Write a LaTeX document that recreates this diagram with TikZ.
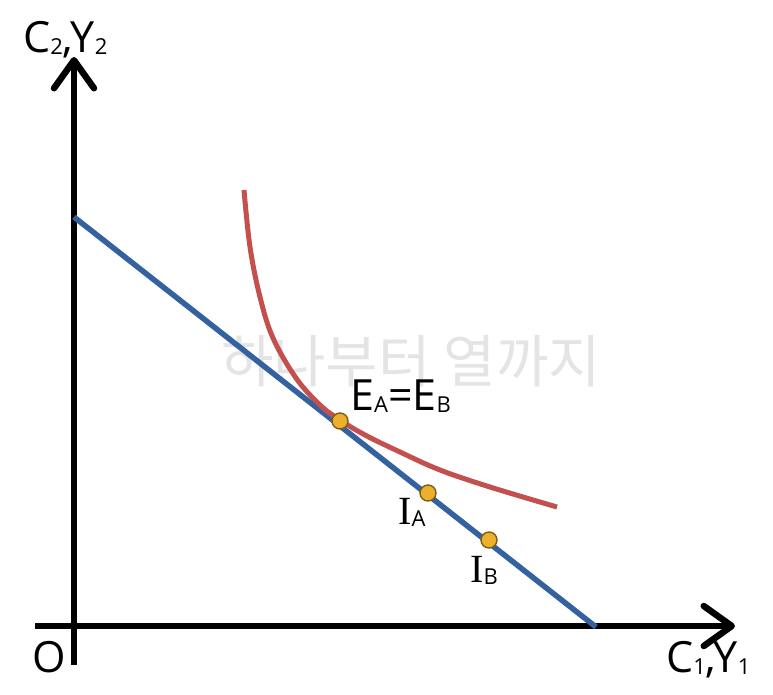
\documentclass[tikz,border=0pt]{standalone}
\usepackage{fontspec}
\setmainfont{Open Sans}
\newfontfamily\serifI{Liberation Serif}
\newfontfamily\krfont{Noto Sans CJK KR}
\usetikzlibrary{arrows.meta}
\definecolor{bluel}{RGB}{52,98,160}
\definecolor{redc}{RGB}{196,80,78}
\definecolor{dotfill}{RGB}{236,176,46}
\definecolor{dotdraw}{RGB}{125,95,20}
\definecolor{wm}{RGB}{228,228,228}
\newcommand\sbs[1]{\raisebox{-0.06em}{\fontsize{22}{22}\selectfont #1}}
\begin{document}
\begin{tikzpicture}[x=1pt,y=-1pt,
  axis/.style={line width=6.5pt,-{Straight Barb[length=28pt,width=40pt,line cap=round,line join=round]}},
  dotp/.style={circle,fill=dotfill,draw=dotdraw,line width=1.4pt,minimum size=16pt,inner sep=0pt},
  lbl/.style={inner sep=0pt,font=\fontsize{43}{43}\selectfont},
  ilbl/.style={inner sep=0pt,font=\fontsize{40}{40}\selectfont}]
\useasboundingbox (0,0) rectangle (773,694);
\node[font=\krfont\fontsize{57}{57}\selectfont,text=wm,inner sep=0pt] (wmk) at (411,361) {하나부터 열까지};
\coordinate (yb) at (74,665);
\coordinate (yt) at (74,57);
\coordinate (xl) at (35,626);
\coordinate (xr) at (735,626);
\draw[axis] (yb) -- (yt);
\draw[axis] (xl) -- (xr);
\coordinate (b1) at (74,217);
\coordinate (b2) at (596,627);
\draw[bluel,line width=5.5pt] (b1) -- (b2);
\draw[redc,line width=5pt,line cap=butt] plot[smooth,tension=0.6] coordinates {(244,190) (250,247) (260,297) (273,338) (296,378) (320,405) (340,420) (365,435) (400,452) (440,470) (490,487) (557,507)};
\node[dotp] (E) at (340,421) {};
\node[dotp] (IA) at (428,493) {};
\node[dotp] (IB) at (489,540) {};
\node[lbl,anchor=base west] (lE) at (350,410) {E\sbs{A}=E\sbs{B}};
\node[ilbl,anchor=base west] (lIA) at (398,524) {{\serifI I}\sbs{A}};
\node[ilbl,anchor=base west] (lIB) at (470,582) {{\serifI I}\sbs{B}};
\node[lbl,anchor=base west] (lC2) at (23,52) {C\sbs{2},Y\sbs{2}};
\node[lbl,anchor=base west] (lC1) at (666,672) {C\sbs{1},Y\sbs{1}};
\node[lbl,anchor=base west] (lO) at (32,672) {O};
\end{tikzpicture}
\end{document}
